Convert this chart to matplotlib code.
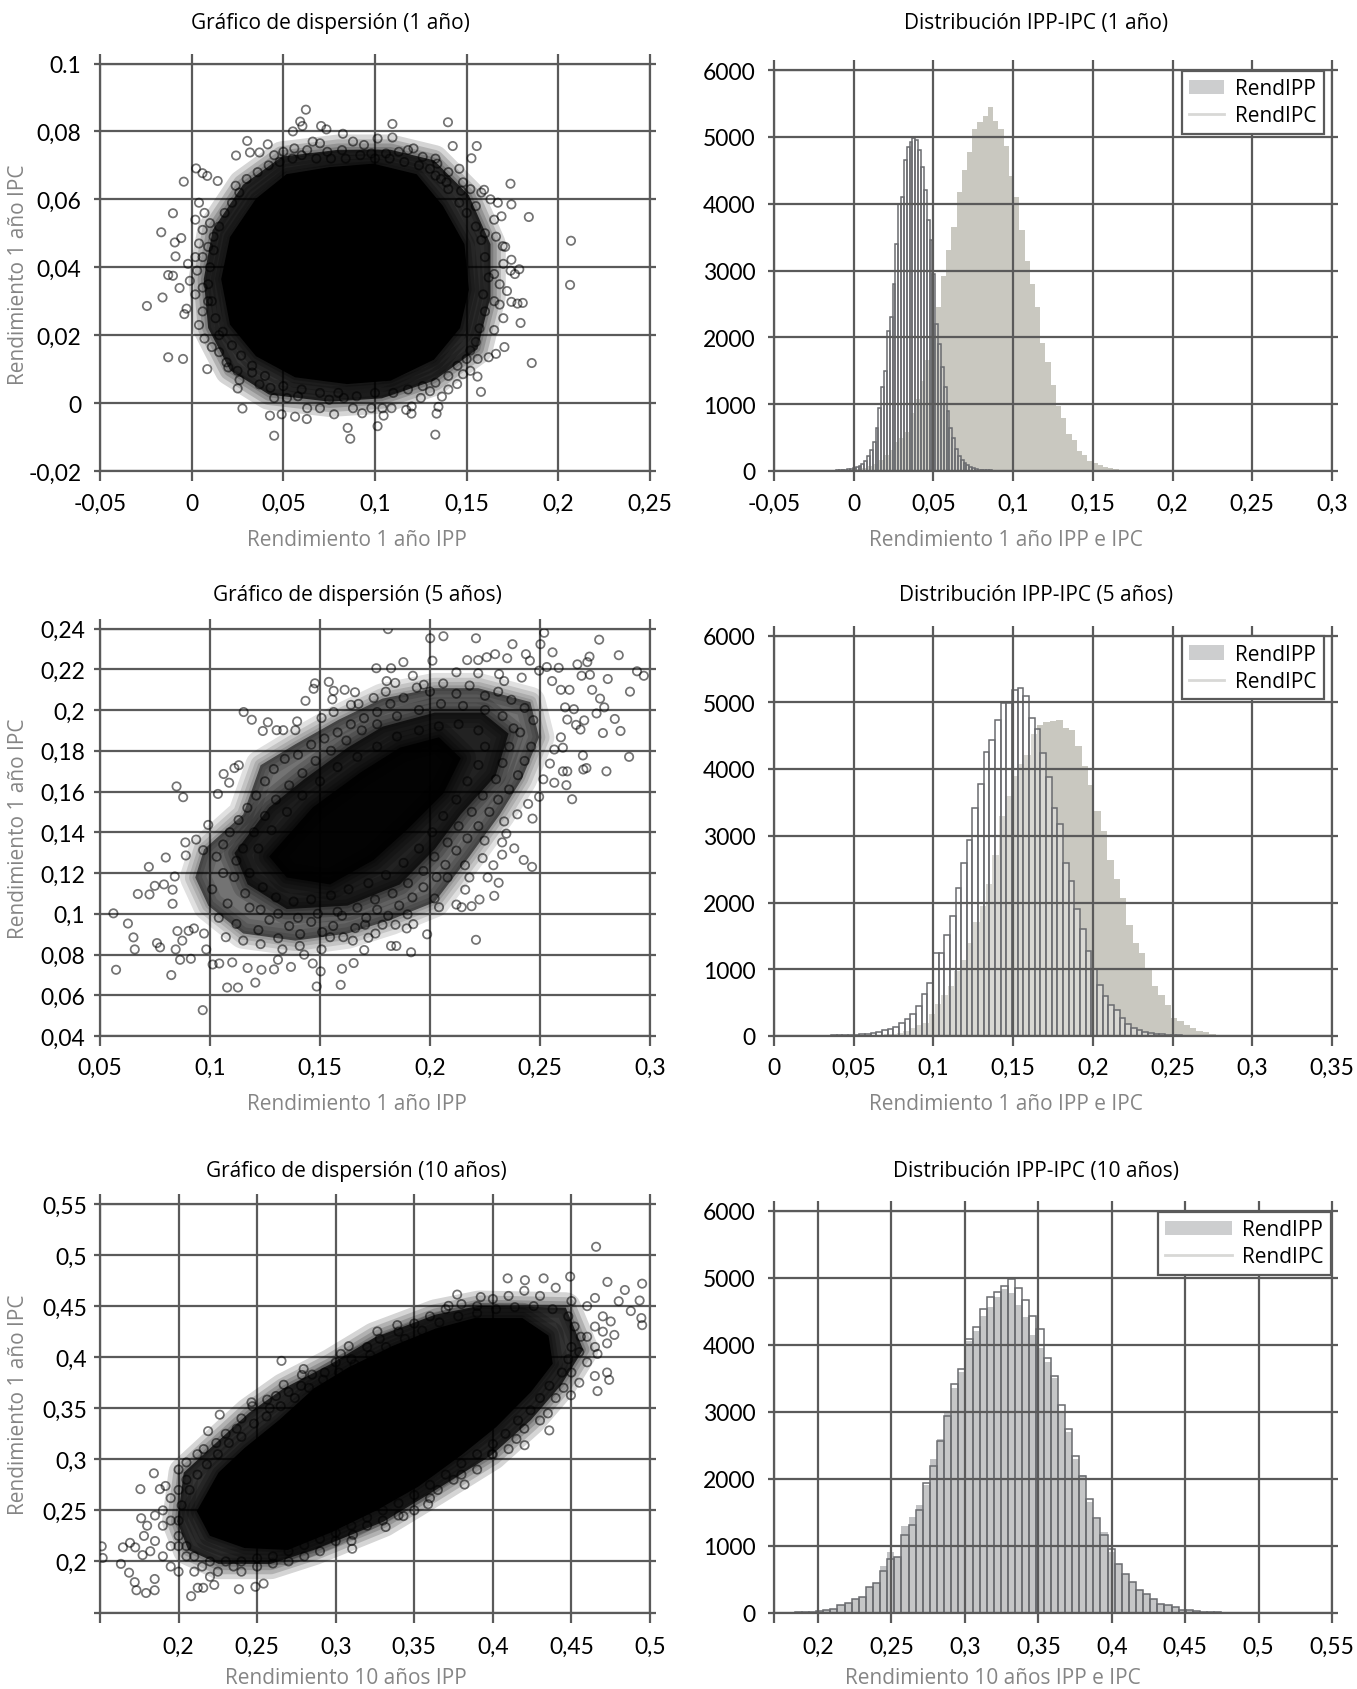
import matplotlib
matplotlib.use("Agg")

import matplotlib.pyplot as plt
from matplotlib.lines import Line2D
from matplotlib.patches import Patch
import numpy as np

W, H = 1357, 1690
NARROW = ["Open Sans"]
DIGITS = ["Lato"]
GRID = "#5a5a5a"
LABEL = "#858585"

# scatter 1 ano
sc1_x = [.0623,.0592,.0604,.0706,.0735,.0552,.1095,.1398,.1095,.1014,.0825,.1424,.1555,.1526,.0303,.0415,.0318,.037,.0242,.0024,.0059,.0085,-.0043,.0142,.1739,.1595,.1744,.1839,-.0102,-.0166,.2069,.2064,-.0092,-.0057,-.0088,-.0128,-.0102,-.0066,-.0159,-.0244,-.0028,-.004,-.0128,-.0047,.0085,.1855,.1706,.1794,.1806,.1777,.1744,.1787,.1763,.1744,.1697,.1578,.1559,.1448,.1365,.1346,.1336,.1329,.1014,.0865,.0851,.045,.0628,.0564,.0491,.0427,.0277,.0251,.0261,.0777,.1199,.1047,
         .05,.045,.056,.063,.066,.07,.074,.082,.088,.094,.098,.106,.113,.118,.121,.126,.133,.134,.14,.146,.133,.004,.007,.002,.006,.01,.012,.004,.009,.002,-.002,.003,-.001,.006,.002,.009,.006,.004,.007,.011,.015,.019,.02,.025,.033,.037,.043,.045,.052,.058,.063,.07,.075,.083,.088,.093,.098,.104,.109,.117,.12,.125,.13,.14,.148,.152,.156,.152,.162,.166,.165,.17,.168,.172,.168,.165,.17,.174,.171,.166,.165,.169,.167,.163,.158,.152,.147,.139,.155,
         .012,.015,.018,.022,.026,.03,.036,.042,.048,.055,.06,.068,.076,.084,.092,.1,.108,.116,.124,.13,.136,.14,.146,.15,.155,.158,.16,.162,.159,.16,.157,.155,.15,.145,.14,.133,.126,.118,.11,.1,.09,.08,.07,.06,.05,.04,.033,.027,.022,.017,.013,.011,.009,.01,.006,.165,.16,.148,.024,.015]
sc1_y = [.0864,.0829,.0816,.0816,.0806,.08,.0822,.0827,.0782,.0779,.0793,.0757,.0757,.0721,.0772,.0762,.0738,.0738,.0729,.0691,.0677,.0669,.0652,.0654,.0646,.0628,.0585,.0548,.0559,.0503,.0478,.0348,.0473,.0486,.0432,.0377,.0375,.0339,.0311,.0286,.0278,.0262,.0135,.013,.01,.0118,.0165,.0236,.0295,.0293,.0298,.0394,.038,.0422,.0462,.0033,.0078,.0056,.0019,-.0011,-.0031,-.0093,-.0068,-.0105,-.0073,-.0096,-.0047,-.004,-.0033,-.0037,-.0016,.0043,.0068,-.0033,-.0031,-.0037,
         .074,.073,.075,.0745,.077,.0765,.074,.0745,.077,.076,.0735,.0735,.074,.0745,.075,.0725,.072,.0705,.068,.069,.067,.059,.056,.054,.051,.053,.049,.047,.046,.043,.041,.039,.036,.034,.032,.03,.027,.023,.019,.0165,.015,.012,.0105,.0095,.009,.0055,.0045,.0015,.0015,.002,-.0015,-.0015,.001,.0015,-.0015,-.003,-.0015,-.0015,-.0015,-.002,-.001,.0015,.0035,.004,.0085,.0095,.013,.0155,.0135,.0145,.0215,.025,.029,.033,.035,.038,.041,.039,.046,.049,.054,.055,.059,.06,.062,.063,.0625,.065,.058,
         .045,.052,.056,.059,.062,.066,.068,.07,.071,.072,.073,.072,.072,.072,.073,.072,.072,.071,.07,.069,.066,.063,.059,.056,.052,.048,.043,.037,.032,.027,.022,.018,.013,.011,.008,.006,.005,.004,.003,.003,.002,.003,.003,.004,.005,.008,.011,.014,.017,.021,.025,.03,.035,.04,.043,.03,.05,.065,.064,.02]
# dense zones, outlines
sc1_haze_x = [.0066,.0114,.028,.0493,.0801,.1085,.1322,.1512,.163,.163,.1559,.1322,.1038,.0754,.0422,.0209,.009]
sc1_haze_y = [.0365,.0509,.0643,.0726,.0746,.0746,.0715,.0612,.0468,.0313,.0159,.0066,.0014,.0004,.0025,.0097,.0221]
sc1_core_x = [.0161,.0209,.0351,.0517,.0754,.0991,.1227,.137,.1488,.1512,.1464,.1322,.1085,.0848,.0564,.0351,.0209]
sc1_core_y = [.0365,.0489,.0602,.0674,.0695,.0705,.0674,.0581,.0468,.0334,.0221,.0128,.0066,.0056,.0076,.0138,.0231]

# scatter 5 anos
sc5_x = [.1809,.2001,.2061,.2209,.2375,.2519,.2502,.2557,.2769,.2858,.2725,.2715,.267,.2941,.2972,.2808,.2689,.2727,.2909,.2737,.2773,.2792,.2757,.284,.2701,.2684,.2866,.2786,.2905,.2695,.2802,.2697,.2711,.2624,.2604,.262,.2646,.2496,.2466,.2446,.2426,.2464,.2383,.2328,.2312,.2292,.2262,.2225,.2189,.2144,.212,.2209,.1987,.1914,.1898,.1924,.1894,.1847,.1823,.1701,.1752,.172,.1649,.1653,.16,.1594,.1485,.1503,.1368,.1291,.1206,.1127,.1078,.0967,.0824,.0573,.0658,.0652,.0627,.0561,.0759,.0773,.0844,.0852,.083,.0672,.0725,.0749,.0791,.083,.0722,.0799,.084,.089,.0888,.0937,.0848,.0878,.0969,.0992,.1036,.1062,.1087,.1111,.1131,.1153,.119,.1263,.124,.1303,.1333,.1396,.1388,.1434,.1471,.1477,.154,.1562,.1612,.1659,.1556,.1562,.1507,.1641,.1675,.1744,.1756,.1823,.1803,.1799,.1879,.1842,.1922,.1972,.2011,.2169,.2219,.2258,.2296,.2351,.2436,.2454,.2531,.2585,.2496,.2417,.2219,.2314,.2337,.212,.2595,.2634,.2555,.2614,.2654,.2624,.2664,.2595,.2604,.2565,.2545,.2515,.2565,.2397,.2347,.2328,.0864,.0913,.0983,.1012,.1042,.1101,.1171,.1234,.1309,.1428,.1467,.1507,.0903,.0927,.0874,.0973,.1072,.1151,.123,.1329,.1408,.1546,.1606,.1705,.1784,.1843,.2041,.2021,.216,.208,.2179,.2239,.2288,.2159,.2248,.2337,
         .103,.106,.101,.108,.104,.112,.118,.122,.127,.131,.136,.141,.146,.151,.156,.16,.166,.171,.176,.181,.186,.192,.197,.203,.207,.212,.217,.222,.227,.231,.236,.24,.243,.246,.241,.247,.243,.237,.231,.225,.218,.212,.206,.2,.194,.188,.182,.176,.17,.164,.158,.152,.146,.14,.134,.129,.125,.121,.117,.113,.109,.106,.115,.12,.125,.13,.136,.142,.148,.155,.162,.169,.176,.185,.195,.205,.215,.225,.233,.238,.236,.233,.23,.224,.219,.213,.208,.202,.197,.19,.183,.175,.167,.158,.149,.14,.131,.123,.116,.111,.112,.118,.124,.13,.138,.146,.155,.163,.172,.18,.188,.195,.201,.206,.212,.217,.222,.225,.222,.213,.204,.195,.185,.176,.167,.158,.15,.142,.135,.128,.122]
sc5_y = [.2397,.2352,.2362,.2352,.2323,.2379,.2323,.2283,.2345,.2269,.2262,.2235,.2224,.219,.2168,.2152,.2168,.2173,.209,.2099,.2056,.2013,.1983,.1956,.1949,.1904,.1897,.1887,.177,.1777,.1699,.1708,.1715,.1699,.1699,.1631,.1562,.1574,.1467,.1539,.1264,.123,.1321,.129,.1152,.1088,.1178,.107,.1037,.1032,.1045,.0872,.0899,.0811,.0997,.0949,.0928,.0842,.0842,.0822,.0903,.0882,.0868,.0758,.073,.0651,.0643,.0717,.0739,.0727,.0662,.0638,.0638,.0527,.0699,.0725,.0825,.0884,.0952,.1002,.0856,.0835,.0825,.0915,.1049,.1097,.1095,.1137,.1144,.1118,.123,.1276,.1183,.1286,.135,.1364,.1625,.1572,.1312,.1436,.1588,.1686,.1643,.1715,.1729,.199,.1952,.194,.1897,.1901,.1901,.1944,.1901,.2045,.2104,.2131,.2138,.2094,.2099,.2087,.2052,.199,.1961,.2025,.203,.2059,.2205,.2205,.2142,.209,.2235,.2133,.2168,.2124,.2242,.2245,.2245,.2259,.2274,.2254,.2274,.2242,.2211,.2207,.2193,.2159,.218,.2176,.2142,.2185,.2099,.2099,.2142,.2013,.2004,.1953,.1927,.1866,.1815,.1806,.1737,.166,.1643,.1488,.1393,.135,.0774,.0779,.0825,.0751,.0756,.0761,.0734,.0725,.0774,.0799,.0756,.0825,.0916,.0928,.0868,.0903,.0885,.0868,.0851,.0825,.0842,.0885,.0885,.0946,.0946,.0946,.1032,.1075,.1118,.1178,.1178,.1273,.1238,.1238,.1359,.1453,
         .128,.12,.112,.105,.098,.095,.103,.092,.097,.088,.094,.09,.096,.091,.094,.099,.093,.098,.102,.099,.104,.108,.113,.118,.124,.131,.137,.143,.15,.156,.161,.168,.175,.182,.189,.195,.201,.205,.209,.207,.212,.208,.213,.209,.211,.206,.203,.199,.196,.193,.189,.186,.183,.178,.176,.171,.165,.158,.152,.146,.14,.134,.132,.14,.148,.156,.163,.169,.175,.18,.185,.19,.193,.197,.2,.203,.202,.2,.197,.191,.182,.174,.166,.158,.15,.143,.135,.128,.121,.115,.11,.107,.103,.101,.1,.098,.1,.102,.11,.118,.126,.12,.113,.108,.106,.107,.109,.112,.115,.119,.125,.132,.14,.148,.156,.165,.173,.182,.19,.193,.192,.19,.187,.182,.177,.172,.165,.158,.15,.141,.132]
sc5_haze_x = [.0973,.1151,.123,.1388,.1586,.1784,.2021,.2219,.2456,.2496,.2417,.2318,.2179,.2021,.1823,.1625,.1388,.1151,.0992,.0933]
sc5_haze_y = [.1316,.1488,.1729,.1832,.1953,.2056,.2107,.2107,.2039,.1866,.166,.1488,.1281,.1057,.0971,.0903,.0868,.0903,.104,.1178]
sc5_mid_x = [.1111,.1269,.1428,.1625,.1784,.2021,.2239,.2357,.2298,.214,.2021,.1863,.1625,.1349,.1171]
sc5_mid_y = [.1298,.1522,.166,.1815,.1918,.1987,.1987,.1884,.1677,.1488,.1316,.1144,.104,.1023,.1144]
sc5_core_x = [.1269,.1467,.1685,.1863,.2041,.214,.2061,.1902,.1744,.1546,.1349]
sc5_core_y = [.1281,.1522,.1694,.1815,.1866,.1763,.1591,.1419,.1264,.1144,.1178]

# scatter 10 anos
sc10_x = [.4657,.4094,.4204,.4323,.4492,.4729,.495,.484,.4934,.4801,.4878,.4945,.495,.4773,.4727,.4666,.4727,.474,.4649,.4666,.4497,.4359,.4202,.3994,.382,.3588,.3431,.3318,.3105,.311,.2655,.2669,.2564,.2464,.2262,.2188,.1843,.1757,.1881,.1917,.1762,.1691,.1646,.1724,.1771,.1511,.1517,.1633,.1685,.1721,.1732,.1793,.1848,.1848,.208,.2384,.2489,.2541,.2227,.2157,.2122,.3773,.3923,.3718,.3392,.3265,.3083,.3033,.2796,.2785,
          .2,.205,.212,.216,.224,.23,.237,.24,.247,.258,.262,.27,.278,.285,.293,.3,.31,.32,.328,.34,.35,.36,.37,.38,.39,.4,.41,.42,.43,.44,.45,.46,.465,.47,.465,.475,.47,.46,.465,.455,.46,.45,.455,.445,.44,.435,.43,.42,.415,.41,.4,.39,.38,.375,.365,.36,.35,.34,.33,.32,.31,.3,.29,.28,.27,.26,.25,.24,.235,.225,.22,.215,.21,.2,.195,.19,.195,.185,.19,.18,.185,.19,.195,.2,.205,.195,.2,.205,.178,.182,
          .207,.212,.218,.225,.232,.24,.248,.256,.265,.274,.283,.292,.302,.312,.322,.332,.344,.355,.366,.378,.39,.402,.414,.426,.438,.448,.452,.456,.45,.448,.444,.436,.43,.424,.416,.408,.4,.39,.38,.37,.36,.35,.34,.33,.32,.31,.3,.29,.28,.27,.26,.25,.24,.23,.22,.21,.205,.2,.2,.202]
sc10_y = [.5081,.4772,.4754,.4772,.4789,.4737,.472,.4658,.4555,.4548,.4452,.4383,.4314,.4218,.4135,.4032,.385,.3778,.3816,.3668,.3627,.3283,.3138,.3049,.2753,.256,.2444,.2337,.2124,.2261,.3964,.373,.3585,.3558,.3437,.3276,.2863,.2708,.2708,.2739,.2423,.2182,.2138,.2138,.2062,.2148,.2034,.1976,.189,.1797,.1718,.1691,.1718,.1828,.166,.1728,.1752,.1783,.177,.1742,.1742,.4613,.4589,.4503,.4314,.4252,.4108,.4032,.3884,.3826,
          .29,.297,.305,.31,.316,.325,.33,.34,.352,.35,.362,.366,.372,.383,.385,.395,.398,.41,.418,.425,.433,.44,.447,.452,.45,.457,.46,.465,.46,.468,.455,.45,.458,.44,.43,.435,.425,.42,.41,.405,.395,.385,.375,.37,.36,.345,.338,.33,.32,.31,.305,.29,.285,.28,.27,.262,.25,.245,.24,.235,.22,.22,.21,.205,.2,.198,.195,.19,.195,.19,.185,.195,.19,.19,.195,.205,.215,.22,.235,.235,.245,.25,.262,.27,.28,.24,.215,.205,.225,.21,
          .27,.285,.295,.305,.316,.322,.335,.342,.352,.36,.37,.378,.385,.393,.402,.41,.418,.426,.434,.44,.443,.447,.449,.45,.447,.44,.43,.42,.41,.398,.385,.372,.36,.348,.338,.325,.315,.305,.296,.285,.275,.265,.257,.25,.243,.235,.228,.222,.216,.21,.205,.203,.2,.2,.2,.205,.215,.225,.24,.255]
sc10_haze_x = [.1992,.2033,.2227,.2448,.2669,.2972,.3249,.3635,.3912,.4464,.4575,.4436,.4243,.3994,.3635,.3304,.2862,.2586,.2254,.2061]
sc10_haze_y = [.2389,.287,.3145,.3455,.3695,.3936,.4194,.4417,.4503,.4486,.4074,.373,.3386,.3042,.2698,.2389,.2113,.1976,.1976,.2113]
sc10_core_x = [.2116,.2254,.242,.2641,.2862,.3083,.3359,.3635,.3884,.4188,.4354,.4381,.4243,.4022,.3801,.3525,.3249,.2972,.2696,.242,.2199]
sc10_core_y = [.2492,.287,.3111,.3386,.3695,.3902,.4108,.428,.4383,.4383,.4211,.3936,.3661,.3317,.3042,.2732,.2492,.2285,.2113,.2131,.2251]

# histogramas: primer borde, ancho de clase, frecuencias
h1_ipp_start, h1_ipp_w = -.0142, .00328
h1_ipp = [3,5,8,12,21,31,52,68,110,163,240,320,440,500,580,870,1080,1340,1660,2000,2450,2920,3310,3650,4180,4500,4780,5120,5220,5310,5450,5230,5110,4860,4410,4100,3600,3140,2800,2450,1920,1630,1290,980,790,555,460,305,240,147,125,85,58,52,37,20,10,8,5]
h1_ipc_start, h1_ipc_w = -.0112, .00178
h1_ipc = [10,15,15,20,25,35,45,55,80,110,150,230,320,430,640,950,1250,1500,2100,2300,2800,3400,4000,4100,4650,4850,4920,4980,4950,4800,4550,4200,3750,3450,2950,2200,1900,1550,1250,900,650,500,330,220,160,120,90,60,40,30,20,15,12,10,8]

h5_ipp_start, h5_ipp_w = .057, .004
h5_ipp = [8,12,18,26,37,52,73,115,170,195,325,480,615,745,980,1140,1400,1715,1950,2270,2715,3290,3600,3895,4080,4210,4525,4655,4700,4725,4735,4620,4590,4340,4050,3760,3370,3065,2635,2345,2060,1665,1400,1245,1010,755,615,465,273,230,168,125,75,63,37,20,12,8,5]
h5_ipc_start, h5_ipc_w = .0322, .00355
h5_ipc = [5,8,10,12,15,20,26,37,47,63,85,105,140,195,255,335,455,625,800,1245,1245,1515,1795,2215,2595,2940,3420,3775,4260,4435,4735,4985,4985,5180,5220,5100,4760,4600,4235,3885,3420,3170,2595,2320,1910,1610,1280,1010,760,600,465,390,273,180,115,85,63,47,37,25,18,12,8,5]

h10_start, h10_w = .1842, .00484
h10_ipp = [3,6,10,20,42,52,115,147,200,236,378,446,690,900,828,1300,1420,1600,1900,2300,2600,3000,3350,3600,4050,4200,4430,4560,4720,4830,4780,4600,4420,4150,3950,3750,3500,3000,2700,2300,2050,1650,1400,1200,900,718,577,456,341,273,199,131,115,79,42,31,20,12,8,5]
h10_ipc = [3,6,10,20,42,52,115,147,200,236,378,446,619,797,828,1154,1311,1531,1930,2192,2570,2937,3408,3634,4080,4263,4536,4709,4788,4877,4982,4850,4677,4431,4232,3802,3529,3094,2737,2344,2035,1689,1405,1164,944,718,577,456,341,273,199,131,115,79,42,31,20,12,8,5]

# ticks
sc1_xt = [-.05, 0, .05, .1, .15, .2, .25]
sc1_xl = ["-0,05", "0", "0,05", "0,1", "0,15", "0,2", "0,25"]
sc1_yt = [-.02, 0, .02, .04, .06, .08, .1]
sc1_yl = ["-0,02", "0", "0,02", "0,04", "0,06", "0,08", "0.1"]
h1_xt = [-.05, 0, .05, .1, .15, .2, .25, .3]
h1_xl = ["-0,05", "0", "0,05", "0,1", "0,15", "0,2", "0,25", "0,3"]
sc5_xt = [.05, .1, .15, .2, .25, .3]
sc5_xl = ["0,05", "0,1", "0,15", "0,2", "0,25", "0,3"]
sc5_yt = [.04, .06, .08, .1, .12, .14, .16, .18, .2, .22, .24]
sc5_yl = ["0,04", "0,06", "0,08", "0,1", "0,12", "0,14", "0,16", "0,18", "0,2", "0,22", "0,24"]
h5_xt = [0, .05, .1, .15, .2, .25, .3, .35]
h5_xl = ["0", "0,05", "0,1", "0,15", "0,2", "0,25", "0,3", "0,35"]
sc10_xt = [.15, .2, .25, .3, .35, .4, .45, .5]
sc10_xl = ["", "0,2", "0,25", "0,3", "0,35", "0,4", "0,45", "0,5"]
sc10_yt = [.15, .2, .25, .3, .35, .4, .45, .5, .55]
sc10_yl = ["", "0,2", "0,25", "0,3", "0,35", "0,4", "0,45", "0,5", "0,55"]
h10_xt = [.17, .2, .25, .3, .35, .4, .45, .5, .55]
h10_xl = ["", "0,2", "0,25", "0,3", "0,35", "0,4", "0,45", "0,5", "0,55"]
h_yt = [0, 1000, 2000, 3000, 4000, 5000, 6000]
h_yl = ["0", "1000", "2000", "3000", "4000", "5000", "6000"]

fig = plt.figure(figsize=(W / 100, H / 100), dpi=100, facecolor="white")


def panel(x0, x1, ytop, ybot, xt, xl, yt, yl, xpad, ypad):
    ax = fig.add_axes([x0 / W, 1 - ybot / H, (x1 - x0) / W, (ybot - ytop) / H])
    ax.set_xlim(xt[0], xt[-1])
    ax.set_ylim(yt[0], yt[-1])
    ax.set_xticks(xt)
    ax.set_xticklabels(xl, family=DIGITS, fontsize=16.5)
    ax.set_yticks(yt)
    ax.set_yticklabels(yl, family=DIGITS, fontsize=16.5)
    ax.tick_params(axis="x", length=7, width=1.6, color=GRID, top=True, pad=xpad)
    ax.tick_params(axis="y", length=4.5, width=1.6, color=GRID, right=True, pad=ypad)
    ax.grid(True, color=GRID, lw=1.6)
    ax.set_axisbelow(False)
    for s in ax.spines.values():
        s.set_color(GRID)
        s.set_linewidth(1.6)
    return ax


def texts(title, tx, ty, xlab, xx, xy, ylab=None, yy=None):
    fig.text(tx / W, 1 - ty / H, title, family=NARROW, fontsize=15, ha="center", va="center")
    fig.text(xx / W, 1 - xy / H, xlab, family=NARROW, fontsize=15, color=LABEL, ha="center", va="center")
    if ylab:
        fig.text(19 / W, 1 - yy / H, ylab, family=NARROW, fontsize=15, color=LABEL,
                 ha="center", va="center", rotation=90)


def scatter(ax, x, y, zones):
    for zx, zy, a in zones:
        # borde difuso: misma zona con trazos cada vez mas finos
        for lw in (22, 15, 9, 4):
            ax.fill(zx, zy, facecolor="none", edgecolor=(0, 0, 0, a * .22), lw=lw, joinstyle="round", zorder=3)
        ax.fill(zx, zy, color="black", alpha=a, lw=0, zorder=3)
    ax.scatter(x, y, s=36, facecolors="none", edgecolors=(0, 0, 0, .55), linewidths=1.25, zorder=4)


def bars(ax, start, w, vals, **kw):
    left = start + w * np.arange(len(vals))
    ax.bar(left, vals, width=w, align="edge", **kw)


def hist(ax, ipp, ipc, box, color, veil, handle=1.7):
    bars(ax, *ipp, facecolor=color, edgecolor="none", zorder=1)
    bars(ax, *ipc, facecolor=(1, 1, 1, veil), edgecolor="#696b6f", linewidth=1.1, zorder=1.5)
    handles = [Patch(facecolor="#cdcecf", edgecolor="none"), Line2D([0], [0], color="#d8d8d6", lw=2)]
    leg = ax.legend(handles, ["RendIPP", "RendIPC"], loc="upper right", bbox_to_anchor=box, borderaxespad=0,
                    fancybox=False, framealpha=1, edgecolor=GRID, prop={"family": NARROW, "size": 15},
                    handlelength=handle, handletextpad=.5, labelspacing=.3, borderpad=.35)
    leg.get_frame().set_linewidth(1.6)
    leg.set_zorder(6)


ax1 = panel(100, 650, 64.5, 472, sc1_xt, sc1_xl, sc1_yt, sc1_yl, 9, 9)
scatter(ax1, sc1_x, sc1_y, [(sc1_haze_x, sc1_haze_y, .75), (sc1_core_x, sc1_core_y, 1)])
texts("Gráfico de dispersión (1 año)", 330, 24, "Rendimiento 1 año IPP", 357, 540, "Rendimiento 1 año IPC", 275)

ax2 = panel(774, 1332, 71, 472, h1_xt, h1_xl, h_yt, h_yl, 9, 9)
hist(ax2, (h1_ipp_start, h1_ipp_w, h1_ipp), (h1_ipc_start, h1_ipc_w, h1_ipc), (.985, .998), "#c9c8c0", .15)
texts("Distribución IPP-IPC (1 año)", 1036, 24, "Rendimiento 1 año IPP e IPC", 1006, 540)

ax3 = panel(100, 650, 629.5, 1037, sc5_xt, sc5_xl, sc5_yt, sc5_yl, 8, 6)
scatter(ax3, sc5_x, sc5_y, [(sc5_haze_x, sc5_haze_y, .55), (sc5_mid_x, sc5_mid_y, .7), (sc5_core_x, sc5_core_y, .9)])
texts("Gráfico de dispersión (5 años)", 357, 596, "Rendimiento 1 año IPP", 357, 1105, "Rendimiento 1 año IPC", 829)

ax4 = panel(774, 1332, 636.5, 1037, h5_xt, h5_xl, h_yt, h_yl, 8, 9)
hist(ax4, (h5_ipp_start, h5_ipp_w, h5_ipp), (h5_ipc_start, h5_ipc_w, h5_ipc), (.985, .998), "#c9c8c0", .3)
texts("Distribución IPP-IPC (5 años)", 1036, 596, "Rendimiento 1 año IPP e IPC", 1006, 1105)

ax5 = panel(100, 650, 1205, 1613.5, sc10_xt, sc10_xl, sc10_yt, sc10_yl, 9.5, 5)
scatter(ax5, sc10_x, sc10_y, [(sc10_haze_x, sc10_haze_y, .75), (sc10_core_x, sc10_core_y, 1)])
texts("Gráfico de dispersión (10 años)", 356, 1172, "Rendimiento 10 años IPP", 346, 1679, "Rendimiento 1 año IPC", 1405)

ax6 = panel(774, 1332, 1212, 1613.5, h10_xt, h10_xl, h_yt, h_yl, 9.5, 9)
hist(ax6, (h10_start, h10_w, h10_ipp), (h10_start, h10_w, h10_ipc), (.998, .998), "#c2c3c5", .05, 3.2)
texts("Distribución IPP-IPC (10 años)", 1036, 1172, "Rendimiento 10 años IPP e IPC", 993, 1679)

fig.savefig("out.png", dpi=100)
